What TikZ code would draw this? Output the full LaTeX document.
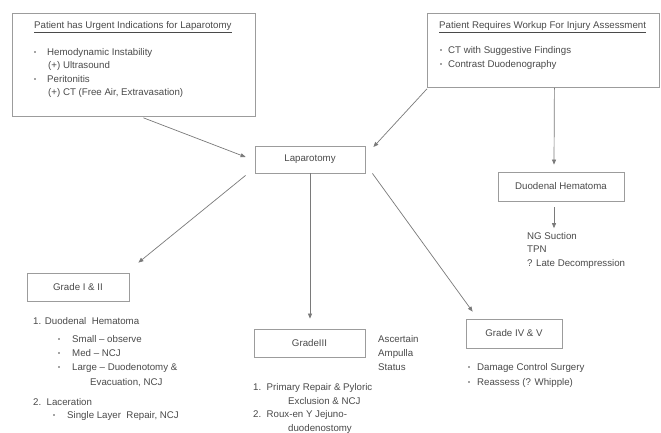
\documentclass[tikz,border=0pt]{standalone}
\usepackage{fontspec}
\setmainfont{Liberation Sans}
\usetikzlibrary{arrows.meta,calc}
\definecolor{ln}{HTML}{7A7A7A}
\definecolor{bx}{HTML}{9C9C9C}
\definecolor{tx}{HTML}{4A4A4A}
\begin{document}
\begin{tikzpicture}[x=1pt,y=-1pt,
  font=\fontsize{9.7}{11}\selectfont, text=tx,
  box/.style={draw=bx, line width=0.8pt, inner sep=0pt},
  lbl/.style={inner sep=0pt, anchor=base west},
  bul/.style={circle, fill=tx, inner sep=0pt, minimum size=1.8pt},
  arr/.style={draw=ln, line width=0.7pt, -{Triangle[length=5pt,width=4pt]}}]
\useasboundingbox (0,0) rectangle (661,432);
\fill[white] (0,0) rectangle (661,432);

% boxes
\node[box, minimum width=243pt, minimum height=103pt, anchor=north west] (u) at (12,13) {};
\node[box, minimum width=232pt, minimum height=74pt, anchor=north west] (w) at (427,13) {};
\node[box, minimum width=110pt, minimum height=27pt] (lap) at (310,159.5) {Laparotomy};
\node[box, minimum width=126pt, minimum height=29pt] (dh) at (561,186.5) {Duodenal Hematoma};
\node[box, minimum width=102pt, minimum height=28pt] (g12) at (78,287) {Grade I \& II};
\node[box, minimum width=111pt, minimum height=28pt] (g3) at (309.5,343) {GradeIII};
\node[box, minimum width=96pt, minimum height=29pt] (g45) at (514,333.5) {Grade IV \& V};

% box 1 text
\node[lbl] (t1) at (34,28.4) {\underline{Patient has Urgent Indications for Laparotomy}};
\node[bul] (b1) at (35,52) {};
\node[lbl] (h1) at (47,55.4) {Hemodynamic Instability};
\node[lbl] (h2) at (48,68.4) {(+) Ultrasound};
\node[bul] (b2) at (35,79) {};
\node[lbl] (h3) at (47,82.4) {Peritonitis};
\node[lbl] (h4) at (48,95.4) {(+) CT (Free Air, Extravasation)};

% box 2 text
\node[lbl] (t2) at (439,28.4) {\underline{Patient Requires Workup For Injury Assessment}};
\node[bul] (b3) at (441,50) {};
\node[lbl] (w1) at (448,53.4) {CT with Suggestive Findings};
\node[bul] (b4) at (441,64) {};
\node[lbl] (w2) at (448,67.4) {Contrast Duodenography};

% hematoma treatment
\node[lbl] (ng) at (527,239.4) {NG Suction};
\node[lbl] (tpn) at (527,252.4) {TPN};
\node[lbl] (late) at (527,266.4) {? Late Decompression};

% grade I & II list
\node[lbl] (a1) at (33,324.4) {1. Duodenal\ \ Hematoma};
\node[bul] (b5) at (59,339) {};
\node[lbl] (a2) at (72,342.4) {Small -- observe};
\node[bul] (b6) at (59,353) {};
\node[lbl] (a3) at (72,356.4) {Med -- NCJ};
\node[bul] (b7) at (59,367) {};
\node[lbl] (a4) at (72,370.4) {Large -- Duodenotomy \&};
\node[lbl] (a5) at (90,385.4) {Evacuation, NCJ};
\node[lbl] (a6) at (33,405.4) {2.\ \ Laceration};
\node[bul] (b8) at (54,415) {};
\node[lbl] (a7) at (67,418.4) {Single Layer\ \ Repair, NCJ};

% grade III
\node[lbl] (c1) at (378,342.4) {Ascertain};
\node[lbl] (c2) at (378,356.4) {Ampulla};
\node[lbl] (c3) at (378,370.4) {Status};
\node[lbl] (c4) at (253,390.4) {1.\ \ Primary Repair \& Pyloric};
\node[lbl] (c5) at (288,404.4) {Exclusion \& NCJ};
\node[lbl] (c6) at (253,417.4) {2.\ \ Roux-en Y Jejuno-};
\node[lbl] (c7) at (288,431.4) {duodenostomy};

% grade IV & V
\node[bul] (b9) at (469,367) {};
\node[lbl] (d1) at (477,370.4) {Damage Control Surgery};
\node[bul] (b10) at (469,382) {};
\node[lbl] (d2) at (477,385.4) {Reassess (? Whipple)};

% connectors
\draw[arr] ($(u.south)+(9.5,1)$) -- ($(lap.west)+(-9,-2.5)$);
\draw[arr] ($(w.south west)+(0,1)$) -- ($(lap.east)+(8,-12.5)$);
\draw[arr] ($(w.south)+(11,0)$) -- ($(dh.north)+(-7,-7)$);
\draw[arr] ($(dh.south)+(-7,6)$) -- ($(ng.north west)+(27,-4)$);
\draw[arr] ($(lap.south west)+(-9,2)$) -- ($(g12.north east)+(9,-10)$);
\draw[arr] (lap.south) -- ($(g3.north)+(0.5,-10)$);
\draw[arr] ($(lap.south east)+(7,0)$) -- ($(g45.north west)+(7,-7)$);
\end{tikzpicture}
\end{document}
